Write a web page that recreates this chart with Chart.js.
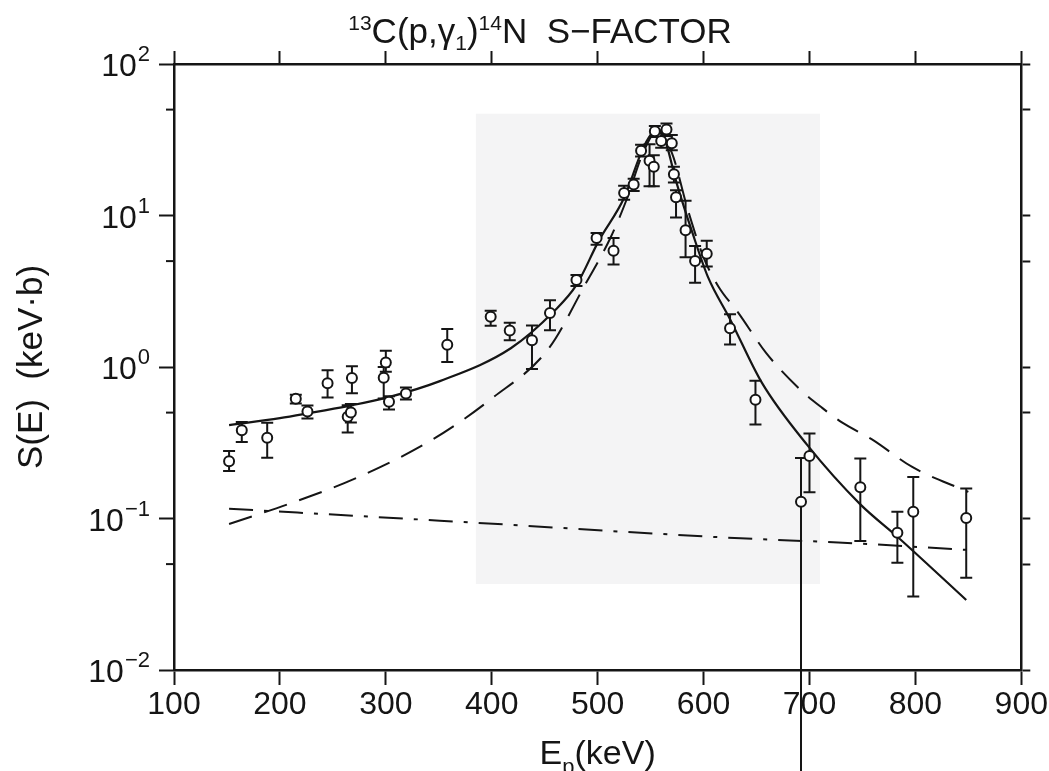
<!DOCTYPE html>
<html>
<head>
<meta charset="utf-8">
<script src="https://cdn.jsdelivr.net/npm/chart.js@4.4.1/dist/chart.umd.min.js"></script>
<style>
  html, body { margin: 0; padding: 0; background: #fff; }
  #wrap { width: 1049px; height: 771px; }
</style>
</head>
<body>
<div id="wrap"><canvas id="chart"></canvas></div>
<script>
// measured S-factor points: energy (keV), value and error bar ends (keV b)
const ptE  = [152, 164, 188, 215, 226, 245, 268, 264, 267, 300, 298, 303, 319, 358, 399, 417, 438, 455, 480, 499, 515, 525, 534, 541, 549, 553, 554, 560, 565, 570, 572, 574, 583, 592, 603, 625, 649, 692, 700, 748, 783, 798, 848];
const ptS  = [0.239, 0.383, 0.341, 0.618, 0.509, 0.78, 0.845, 0.47, 0.50, 1.07, 0.85, 0.59, 0.669, 1.40, 2.15, 1.74, 1.50, 2.27, 3.75, 7.1, 5.86, 14.1, 16, 26.8, 23, 21, 36, 31, 37, 30, 18.7, 13.2, 8, 5.0, 5.6, 1.80, 0.608, 0.129, 0.259, 0.161, 0.0805, 0.111, 0.1006];
const ptHi = [0.279, 0.433, 0.428, 0.657, 0.557, 0.95, 1.01, 0.56, 0.57, 1.28, 1.0, 0.64, 0.733, 1.78, 2.35, 1.96, 1.88, 2.76, 4.05, 7.67, 7.11, 15.7, 17.5, 29.3, 29.5, 25, 39, 35, 40.5, 34, 21, 14.7, 12.5, 6.3, 6.8, 2.23, 0.81, 0.251, 0.364, 0.249, 0.111, 0.188, 0.158];
const ptLo = [0.206, 0.32, 0.252, 0.574, 0.457, 0.63, 0.67, 0.37, 0.43, 0.93, 0.62, 0.525, 0.611, 1.08, 1.87, 1.50, 0.97, 1.75, 3.43, 6.4, 4.74, 12.7, 14.5, 24.5, 15.6, 15.6, 33, 28, 33.5, 27, 16.5, 9.7, 5.3, 3.6, 4.6, 1.41, 0.417, 0.0001, 0.149, 0.071, 0.051, 0.0306, 0.0407];

// full fit (solid)
const fitE = [152, 200, 226, 264, 301, 351, 418, 459, 480, 501, 525, 542, 550, 556, 562, 575, 590, 604, 625, 655, 698, 748, 783, 848];
const fitS = [0.413, 0.46, 0.494, 0.552, 0.628, 0.807, 1.33, 2.34, 3.48, 6.8, 13.1, 26.9, 34, 37, 34, 16, 7.5, 3.95, 2.07, 0.788, 0.305, 0.124, 0.0758, 0.029];

// resonance only (dashed)
const resE = [152, 210, 273, 345, 400, 454, 488, 512, 528, 542, 556, 570, 585, 600, 614, 633, 659, 690, 712, 731, 759, 797, 842, 850];
const resS = [0.092, 0.126, 0.186, 0.335, 0.62, 1.33, 3.48, 7.1, 13.1, 25, 36, 26, 11, 5.3, 3.4, 2.27, 1.24, 0.723, 0.537, 0.429, 0.333, 0.219, 0.158, 0.15];

// direct capture (dash-dot)
const dcE = [152, 351, 635, 727, 850];
const dcS = [0.116, 0.0968, 0.074, 0.0695, 0.062];

const xTicks = [100, 200, 300, 400, 500, 600, 700, 800, 900];
const yDecades = [0.01, 0.1, 1, 10, 100];
const yMinor = [0.05, 0.5, 5, 50];

// light grey patch of the scanned page
const shadeE = [385, 710];
const shadeS = [0.037, 47];

const INK = '#151515';
const FONT = '"Liberation Sans", Arial, sans-serif';

const toXY = (xs, ys) => xs.map((v, i) => ({ x: v, y: ys[i] }));

// grey patch + error bars, under the markers
const underlay = {
  id: 'underlay',
  beforeDatasetsDraw(chart) {
    const { ctx, scales: { x, y } } = chart;
    ctx.save();
    ctx.fillStyle = '#f4f4f5';
    const x0 = x.getPixelForValue(shadeE[0]), x1 = x.getPixelForValue(shadeE[1]);
    const y0 = y.getPixelForValue(shadeS[1]), y1 = y.getPixelForValue(shadeS[0]);
    ctx.fillRect(x0, y0, x1 - x0, y1 - y0);

    ctx.strokeStyle = INK;
    ctx.lineWidth = 2;
    ptE.forEach((e, i) => {
      const px = x.getPixelForValue(e);
      const pHi = y.getPixelForValue(ptHi[i]);
      const pLo = y.getPixelForValue(ptLo[i]);
      ctx.beginPath();
      ctx.moveTo(px, pHi); ctx.lineTo(px, pLo);
      ctx.moveTo(px - 6, pHi); ctx.lineTo(px + 6, pHi);
      ctx.moveTo(px - 6, pLo); ctx.lineTo(px + 6, pLo);
      ctx.stroke();
    });
    ctx.restore();
  }
};

// draws the text pieces one after another, centred on cx
function drawRun(ctx, parts, cx, base) {
  let w = 0;
  parts.forEach(p => { ctx.font = p.size + 'px ' + FONT; p.w = ctx.measureText(p.t).width; w += p.w; });
  let px = cx - w / 2;
  ctx.textAlign = 'left';
  ctx.textBaseline = 'alphabetic';
  parts.forEach(p => {
    ctx.font = p.size + 'px ' + FONT;
    ctx.fillText(p.t, px, base + p.dy);
    px += p.w;
  });
}

const labels = {
  id: 'labels',
  afterDraw(chart) {
    const { ctx, chartArea: a, scales: { y } } = chart;
    ctx.save();
    ctx.fillStyle = INK;
    ctx.strokeStyle = INK;

    // minor ticks on the left axis
    ctx.lineWidth = 2;
    yMinor.forEach(v => {
      const py = y.getPixelForValue(v);
      ctx.beginPath(); ctx.moveTo(a.left - 8, py); ctx.lineTo(a.left, py); ctx.stroke();
    });

    // decade labels 10^n
    yDecades.forEach(v => {
      const py = y.getPixelForValue(v);
      const exp = String(Math.round(Math.log10(v))).replace('-', '\u2212');
      const right = a.left - 24;
      ctx.textBaseline = 'alphabetic';
      ctx.font = '22px ' + FONT;
      const ew = ctx.measureText(exp).width;
      ctx.textAlign = 'left';
      ctx.fillText(exp, right - ew, py - 3);
      ctx.font = '32px ' + FONT;
      ctx.textAlign = 'right';
      ctx.fillText('10', right - ew - 1, py + 12);
    });

    // title
    drawRun(ctx, [
      { t: '13', size: 21, dy: -13 },
      { t: 'C(p,\u03b3', size: 35, dy: 0 },
      { t: '1', size: 21, dy: 7 },
      { t: ')', size: 35, dy: 0 },
      { t: '14', size: 21, dy: -13 },
      { t: 'N  S\u2212FACTOR', size: 35, dy: 0 }
    ], 540, 43);

    // x axis title
    drawRun(ctx, [
      { t: 'E', size: 34, dy: 0 },
      { t: 'p', size: 22, dy: 10 },
      { t: '(keV)', size: 34, dy: 0 }
    ], (a.left + a.right) / 2, 764);

    // y axis title
    ctx.save();
    ctx.translate(42, (a.top + a.bottom) / 2);
    ctx.rotate(-Math.PI / 2);
    ctx.font = '35px ' + FONT;
    ctx.textAlign = 'center';
    ctx.textBaseline = 'alphabetic';
    ctx.fillText('S(E)  (keV\u00b7b)', 0, 0);
    ctx.restore();

    ctx.restore();
  }
};

const frame = { display: true, color: INK, width: 2.5 };

new Chart(document.getElementById('chart'), {
  data: {
    datasets: [
      {
        type: 'scatter',
        data: toXY(ptE, ptS),
        pointStyle: 'circle',
        pointRadius: 5,
        pointBackgroundColor: '#fff',
        pointBorderColor: INK,
        pointBorderWidth: 2,
        order: 0
      },
      {
        type: 'line',
        data: toXY(fitE, fitS),
        borderColor: INK,
        borderWidth: 2.2,
        pointRadius: 0,
        cubicInterpolationMode: 'monotone',
        order: 1
      },
      {
        type: 'line',
        data: toXY(resE, resS),
        borderColor: INK,
        borderWidth: 2,
        borderDash: [24, 13],
        pointRadius: 0,
        cubicInterpolationMode: 'monotone',
        order: 2
      },
      {
        type: 'line',
        data: toXY(dcE, dcS),
        borderColor: INK,
        borderWidth: 2,
        borderDash: [24, 11, 4, 11],
        pointRadius: 0,
        cubicInterpolationMode: 'monotone',
        order: 3
      }
    ]
  },
  options: {
    responsive: true,
    maintainAspectRatio: false,
    animation: false,
    devicePixelRatio: 1,
    layout: { padding: 0 },
    plugins: { legend: { display: false }, tooltip: { enabled: false } },
    scales: {
      x: {
        type: 'linear', position: 'bottom', min: 100, max: 900,
        afterBuildTicks: s => { s.ticks = xTicks.map(v => ({ value: v })); },
        afterFit: s => { s.height = 101; },
        ticks: { color: INK, font: { family: FONT, size: 32 }, padding: 1, maxRotation: 0, autoSkip: false },
        grid: { display: true, drawOnChartArea: false, drawTicks: true, tickLength: 15, tickWidth: 2, color: INK },
        border: frame
      },
      x2: {
        type: 'linear', position: 'top', min: 100, max: 900,
        afterBuildTicks: s => { s.ticks = xTicks.map(v => ({ value: v })); },
        afterFit: s => { s.height = 64; },
        ticks: { display: false },
        grid: { display: true, drawOnChartArea: false, drawTicks: true, tickLength: 13, tickWidth: 2, color: INK },
        border: frame
      },
      y: {
        type: 'logarithmic', position: 'left', min: 0.01, max: 100,
        afterBuildTicks: s => { s.ticks = yDecades.map(v => ({ value: v })); },
        afterFit: s => { s.width = 174; },
        ticks: { display: false },
        grid: { display: true, drawOnChartArea: false, drawTicks: true, tickLength: 15, tickWidth: 2, color: INK },
        border: frame
      },
      y2: {
        type: 'logarithmic', position: 'right', min: 0.01, max: 100,
        afterBuildTicks: s => { s.ticks = yDecades.concat(yMinor).map(v => ({ value: v })); },
        afterFit: s => { s.width = 27; },
        ticks: { display: false },
        grid: { display: true, drawOnChartArea: false, drawTicks: true, tickLength: 9, tickWidth: 2, color: INK },
        border: frame
      }
    }
  },
  plugins: [underlay, labels]
});
</script>
</body>
</html>
